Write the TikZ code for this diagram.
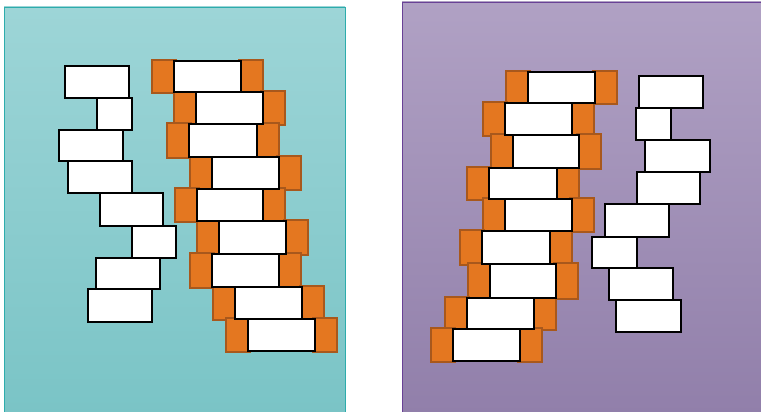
\documentclass[tikz,border=0pt]{standalone}
\usepackage{xcolor}
\usepackage{tikz}

\definecolor{tealtop}{RGB}{157,213,215}
\definecolor{tealbot}{RGB}{122,196,198}
\definecolor{tealedge}{RGB}{45,172,172}
\definecolor{lilactop}{RGB}{176,161,196}
\definecolor{lilacbot}{RGB}{145,127,170}
\definecolor{lilacedge}{RGB}{105,65,150}
\definecolor{brickfill}{RGB}{228,119,32}
\definecolor{brickedge}{RGB}{168,88,28}

%% Rows as left/top/right/bottom, in pixels.
\def\leftpairs{174/61/241/92, 196/92/263/124, 189/124/257/157,
  212/157/279/189, 197/189/263/221, 219/221/286/254,
  212/254/279/287, 235/287/302/319, 248/319/315/351}
\def\leftsingles{65/66/129/98, 97/98/132/130, 59/130/123/161,
  68/161/132/193, 100/193/163/226, 132/226/176/258,
  96/258/160/289, 88/289/152/322}
\def\rightpairs{528/72/595/103, 505/103/572/135, 513/135/579/168,
  489/168/557/199, 505/199/572/231, 482/231/550/264,
  490/264/556/298, 467/298/534/329, 453/329/520/361}
\def\rightsingles{639/76/703/108, 636/108/671/140, 645/140/710/172,
  637/172/700/204, 605/204/669/237, 592/237/637/268,
  609/268/673/300, 616/300/681/332}

\begin{document}
\begin{tikzpicture}[
      x=1pt, y=-1pt,
      line join=miter,
      block/.style={draw=black, fill=white, line width=1.5pt},
      stub/.style={draw=brickedge, fill=brickfill, line width=1.2pt},
    ]
    \useasboundingbox (0,0) rectangle (761,412);
    %% Left panel.
    \fill[top color=tealtop, bottom color=tealbot] (4,7) rectangle (345,414);
    \draw[tealedge, line width=0.8pt] (4,414) -- (4,7) -- (345,7) -- (345,414);
    %% Right panel.
    \fill[top color=lilactop, bottom color=lilacbot] (402,2) rectangle (763,414);
    \draw[lilacedge, line width=0.8pt] (402,414) -- (402,2) -- (763,2);
    %% Orange stubs go under the paired blocks.
    \foreach \xa/\ya/\xb/\yb in \leftpairs {
      \draw[stub] (\xa-22,\ya-1) rectangle (\xa+2,\yb+1);
      \draw[stub] (\xb-2,\ya-1) rectangle (\xb+22,\yb+1);
    }
    \foreach \xa/\ya/\xb/\yb in \rightpairs {
      \draw[stub] (\xa-22,\ya-1) rectangle (\xa+2,\yb+1);
      \draw[stub] (\xb-2,\ya-1) rectangle (\xb+22,\yb+1);
    }
    %% White blocks.
    \foreach \xa/\ya/\xb/\yb in \leftpairs
      \draw[block] (\xa,\ya) rectangle (\xb,\yb);
    \foreach \xa/\ya/\xb/\yb in \leftsingles
      \draw[block] (\xa,\ya) rectangle (\xb,\yb);
    \foreach \xa/\ya/\xb/\yb in \rightpairs
      \draw[block] (\xa,\ya) rectangle (\xb,\yb);
    \foreach \xa/\ya/\xb/\yb in \rightsingles
      \draw[block] (\xa,\ya) rectangle (\xb,\yb);
  \end{tikzpicture}
\end{document}
